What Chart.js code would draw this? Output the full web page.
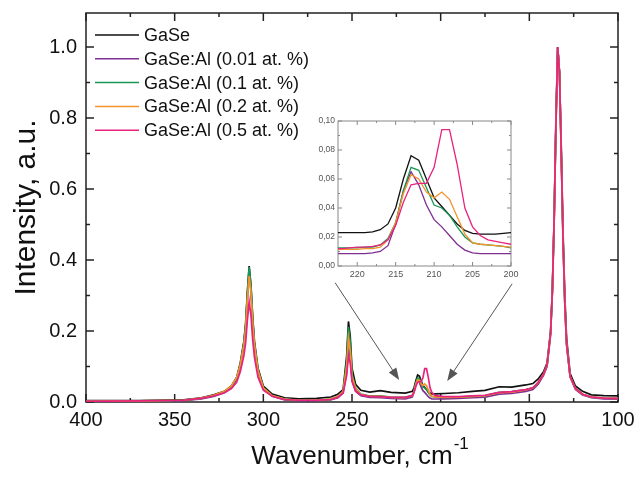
<!DOCTYPE html>
<html>
<head>
<meta charset="utf-8">
<script src="https://cdn.jsdelivr.net/npm/chart.js@4.4.1/dist/chart.umd.min.js"></script>
<style>
  html, body { margin: 0; padding: 0; background: #fff; }
  #wrap { position: relative; width: 636px; height: 477px; }
  #wrap canvas { display: block; }
  #inset { position: absolute; left: 300px; top: 110px; }
</style>
</head>
<body>
<div id="wrap">
  <canvas id="ramanChart" width="636" height="477"></canvas>
  <canvas id="inset" width="220" height="180"></canvas>
</div>
<script>
var seriesLabels = ['GaSe', 'GaSe:Al (0.01 at. %)', 'GaSe:Al (0.1 at. %)', 'GaSe:Al (0.2 at. %)', 'GaSe:Al (0.5 at. %)'];

var wavenumber = [400, 370, 345, 335, 328, 322, 318, 315, 313, 311,
	310, 309, 308, 307, 306, 305, 303, 300, 295, 288,
	280, 270, 262, 258, 255, 253, 252, 251, 250, 248,
	245, 240, 234, 228, 220, 216, 215, 214, 213, 212,
	211, 210, 209, 208, 207, 206, 205, 203, 198, 190,
	182, 175, 167, 160, 152, 148, 145, 142, 140, 138,
	137, 136, 135, 134, 133, 132, 131, 130, 129, 127,
	124, 120, 115, 108, 100];

var gase = [0.004, 0.004, 0.006, 0.012, 0.020, 0.030, 0.045, 0.070, 0.110, 0.170,
	0.220, 0.310, 0.383, 0.330, 0.240, 0.170, 0.095, 0.045, 0.022, 0.012,
	0.009, 0.010, 0.014, 0.022, 0.035, 0.130, 0.227, 0.185, 0.095, 0.050,
	0.033, 0.028, 0.032, 0.027, 0.025, 0.030, 0.040, 0.060, 0.076, 0.073,
	0.060, 0.046, 0.041, 0.035, 0.029, 0.025, 0.023, 0.023, 0.024, 0.026,
	0.030, 0.033, 0.043, 0.042, 0.048, 0.052, 0.065, 0.085, 0.110, 0.200,
	0.320, 0.520, 0.800, 1.000, 0.930, 0.720, 0.480, 0.300, 0.180, 0.080,
	0.045, 0.030, 0.020, 0.018, 0.017];

var al001 = [0.002, 0.002, 0.004, 0.009, 0.016, 0.026, 0.040, 0.065, 0.100, 0.160,
	0.210, 0.295, 0.365, 0.315, 0.225, 0.160, 0.085, 0.038, 0.016, 0.006,
	0.004, 0.004, 0.006, 0.012, 0.025, 0.085, 0.155, 0.125, 0.060, 0.030,
	0.018, 0.013, 0.012, 0.010, 0.009, 0.014, 0.029, 0.054, 0.065, 0.056,
	0.042, 0.032, 0.027, 0.021, 0.015, 0.011, 0.009, 0.0085, 0.009, 0.010,
	0.012, 0.014, 0.022, 0.024, 0.030, 0.035, 0.050, 0.075, 0.100, 0.190,
	0.310, 0.510, 0.780, 1.000, 0.930, 0.700, 0.460, 0.280, 0.160, 0.070,
	0.035, 0.020, 0.012, 0.009, 0.008];

var al01 = [0.002, 0.003, 0.005, 0.010, 0.018, 0.028, 0.043, 0.068, 0.105, 0.165,
	0.215, 0.305, 0.380, 0.330, 0.235, 0.165, 0.090, 0.040, 0.018, 0.008,
	0.005, 0.005, 0.008, 0.015, 0.030, 0.115, 0.212, 0.170, 0.080, 0.040,
	0.022, 0.017, 0.017, 0.014, 0.013, 0.019, 0.030, 0.052, 0.068, 0.066,
	0.054, 0.042, 0.040, 0.035, 0.027, 0.020, 0.016, 0.0145, 0.013, 0.014,
	0.016, 0.018, 0.027, 0.029, 0.035, 0.040, 0.055, 0.078, 0.105, 0.195,
	0.315, 0.515, 0.780, 1.000, 0.930, 0.700, 0.460, 0.280, 0.165, 0.072,
	0.038, 0.022, 0.014, 0.011, 0.010];

var al02 = [0.002, 0.003, 0.005, 0.011, 0.019, 0.030, 0.045, 0.070, 0.105, 0.160,
	0.205, 0.290, 0.355, 0.310, 0.225, 0.160, 0.088, 0.040, 0.018, 0.008,
	0.005, 0.005, 0.008, 0.015, 0.030, 0.100, 0.180, 0.145, 0.072, 0.038,
	0.021, 0.016, 0.016, 0.013, 0.012, 0.018, 0.030, 0.050, 0.063, 0.060,
	0.051, 0.047, 0.051, 0.046, 0.034, 0.022, 0.016, 0.0145, 0.013, 0.014,
	0.016, 0.018, 0.026, 0.028, 0.034, 0.040, 0.055, 0.078, 0.105, 0.195,
	0.315, 0.515, 0.780, 1.000, 0.930, 0.700, 0.460, 0.280, 0.165, 0.072,
	0.038, 0.022, 0.014, 0.011, 0.010];

var al05 = [0.002, 0.003, 0.005, 0.010, 0.017, 0.026, 0.038, 0.056, 0.085, 0.130,
	0.165, 0.230, 0.283, 0.245, 0.175, 0.125, 0.070, 0.033, 0.016, 0.007,
	0.005, 0.005, 0.007, 0.013, 0.026, 0.075, 0.130, 0.110, 0.058, 0.032,
	0.020, 0.016, 0.015, 0.013, 0.013, 0.018, 0.028, 0.044, 0.056, 0.057,
	0.057, 0.068, 0.094, 0.094, 0.070, 0.040, 0.027, 0.018, 0.015, 0.015,
	0.017, 0.019, 0.027, 0.029, 0.035, 0.040, 0.055, 0.078, 0.105, 0.195,
	0.315, 0.515, 0.780, 1.000, 0.930, 0.700, 0.460, 0.280, 0.165, 0.072,
	0.038, 0.022, 0.014, 0.011, 0.010];

// zoomed region 223..200 cm-1 for the inset
var insetWn = [223, 222, 221, 220, 219, 218, 217, 216, 215, 214, 213, 212,
	211, 210, 209, 208, 207, 206, 205, 204, 203, 202, 201, 200];
var insetGase = [0.023, 0.023, 0.023, 0.023, 0.023, 0.0235, 0.025, 0.029, 0.040, 0.060, 0.076, 0.073,
	0.060, 0.047, 0.041, 0.035, 0.029, 0.0245, 0.0225, 0.022, 0.022, 0.022, 0.0225, 0.023];
var insetAl001 = [0.0085, 0.0085, 0.0085, 0.0085, 0.0085, 0.009, 0.010, 0.014, 0.029, 0.052, 0.065, 0.056,
	0.042, 0.032, 0.027, 0.021, 0.015, 0.011, 0.009, 0.0085, 0.0085, 0.0085, 0.0085, 0.0085];
var insetAl01 = [0.0125, 0.0125, 0.0125, 0.0125, 0.013, 0.013, 0.0145, 0.019, 0.030, 0.052, 0.068, 0.066,
	0.054, 0.042, 0.040, 0.035, 0.027, 0.020, 0.016, 0.015, 0.0145, 0.014, 0.0135, 0.0125];
var insetAl02 = [0.0115, 0.0115, 0.0115, 0.0115, 0.012, 0.012, 0.013, 0.018, 0.030, 0.050, 0.063, 0.060,
	0.051, 0.047, 0.051, 0.046, 0.034, 0.022, 0.016, 0.015, 0.0145, 0.014, 0.0135, 0.013];
var insetAl05 = [0.012, 0.012, 0.0125, 0.013, 0.013, 0.0135, 0.0145, 0.018, 0.028, 0.044, 0.056, 0.057,
	0.057, 0.068, 0.094, 0.094, 0.070, 0.040, 0.027, 0.021, 0.018, 0.017, 0.016, 0.015];

var lineColors = ['#111111', '#7f2f8f', '#1b9653', '#f4922c', '#e8237f'];
var FONT = '"Liberation Sans", Arial, sans-serif';
Chart.defaults.font.family = FONT;
Chart.defaults.color = '#111';

function toPoints(xs, ys) {
	return xs.map(function (x, i) { return { x: x, y: ys[i] }; });
}

function buildSets(xs, list, width) {
	return list.map(function (ys, i) {
		return {
			label: seriesLabels[i],
			data: toPoints(xs, ys),
			borderColor: lineColors[i],
			borderWidth: width,
			pointRadius: 0,
			tension: 0,
			order: list.length - 1 - i
		};
	});
}

// box round the plot with inward major/minor ticks on all four sides
var frameTicks = {
	id: 'frameTicks',
	beforeDatasetsDraw: function (chart, args, o) {
		var ctx = chart.ctx, a = chart.chartArea, sx = chart.scales.x, sy = chart.scales.y;
		ctx.save();
		ctx.strokeStyle = o.color;
		ctx.lineWidth = o.width;
		ctx.strokeRect(a.left, a.top, a.right - a.left, a.bottom - a.top);
		ctx.beginPath();
		sx.ticks.forEach(function (t) {
			var p = sx.getPixelForValue(t.value);
			ctx.moveTo(p, a.bottom); ctx.lineTo(p, a.bottom - o.major);
			ctx.moveTo(p, a.top); ctx.lineTo(p, a.top + o.major);
			var m = t.value + o.xMinor;
			if (m < sx.max) {
				p = sx.getPixelForValue(m);
				ctx.moveTo(p, a.bottom); ctx.lineTo(p, a.bottom - o.minor);
				ctx.moveTo(p, a.top); ctx.lineTo(p, a.top + o.minor);
			}
		});
		sy.ticks.forEach(function (t) {
			var p = sy.getPixelForValue(t.value);
			ctx.moveTo(a.left, p); ctx.lineTo(a.left + o.major, p);
			ctx.moveTo(a.right, p); ctx.lineTo(a.right - o.major, p);
			var m = t.value + o.yMinor;
			if (m < sy.max) {
				p = sy.getPixelForValue(m);
				ctx.moveTo(a.left, p); ctx.lineTo(a.left + o.minor, p);
				ctx.moveTo(a.right, p); ctx.lineTo(a.right - o.minor, p);
			}
		});
		ctx.stroke();
		ctx.restore();
	}
};

var legendBox = {
	id: 'legendBox',
	afterDatasetsDraw: function (chart, args, o) {
		var ctx = chart.ctx, a = chart.chartArea;
		ctx.save();
		ctx.font = o.size + 'px ' + FONT;
		ctx.textBaseline = 'middle';
		ctx.textAlign = 'left';
		chart.data.datasets.forEach(function (ds, i) {
			var y = a.top + o.top + i * o.rowHeight;
			var x = a.left + o.left;
			ctx.strokeStyle = ds.borderColor;
			ctx.lineWidth = 1.5;
			ctx.beginPath();
			ctx.moveTo(x, y);
			ctx.lineTo(x + o.lineLength, y);
			ctx.stroke();
			ctx.fillStyle = '#111';
			ctx.fillText(ds.label, x + o.lineLength + o.gap, y + 1);
		});
		ctx.restore();
	}
};

var pointerArrows = {
	id: 'pointerArrows',
	afterDatasetsDraw: function (chart, args, o) {
		var ctx = chart.ctx, sx = chart.scales.x, sy = chart.scales.y;
		ctx.save();
		ctx.strokeStyle = o.color;
		ctx.fillStyle = o.color;
		ctx.lineWidth = 1;
		o.arrows.forEach(function (ar) {
			var x1 = sx.getPixelForValue(ar[0]), y1 = sy.getPixelForValue(ar[1]);
			var x2 = sx.getPixelForValue(ar[2]), y2 = sy.getPixelForValue(ar[3]);
			var ang = Math.atan2(y2 - y1, x2 - x1);
			ctx.beginPath();
			ctx.moveTo(x1, y1);
			ctx.lineTo(x2 - Math.cos(ang) * 6, y2 - Math.sin(ang) * 6);
			ctx.stroke();
			ctx.beginPath();
			ctx.moveTo(x2, y2);
			ctx.lineTo(x2 - Math.cos(ang) * 12 + Math.sin(ang) * 4.5, y2 - Math.sin(ang) * 12 - Math.cos(ang) * 4.5);
			ctx.lineTo(x2 - Math.cos(ang) * 12 - Math.sin(ang) * 4.5, y2 - Math.sin(ang) * 12 + Math.cos(ang) * 4.5);
			ctx.closePath();
			ctx.fill();
		});
		ctx.restore();
	}
};

// "-1" superscript after the x axis title
var superscript = {
	id: 'superscript',
	afterDraw: function (chart) {
		var ctx = chart.ctx, sx = chart.scales.x, t = sx.options.title;
		ctx.save();
		ctx.font = t.font.size + 'px ' + FONT;
		var w = ctx.measureText(t.text).width;
		var cx = (sx.left + sx.right) / 2;
		var cy = sx.bottom - t.padding.bottom - t.font.size * 1.2 / 2;
		ctx.font = '17px ' + FONT;
		ctx.fillStyle = '#111';
		ctx.textAlign = 'left';
		ctx.textBaseline = 'middle';
		ctx.fillText('-1', cx + w / 2 + 1, cy - 12);
		ctx.restore();
	}
};

function fixWidth(w) {
	return function (scale) {
		scale.width = w;
		scale.paddingTop = 0; scale.paddingBottom = 0;
	};
}
function fixHeight(h) {
	return function (scale) {
		scale.height = h;
		scale.paddingLeft = 0; scale.paddingRight = 0;
	};
}

var ctx = document.getElementById('ramanChart').getContext('2d');
var ramanChart = new Chart(ctx, {
	type: 'line',
	data: { datasets: buildSets(wavenumber, [gase, al001, al01, al02, al05], 1.7) },
	options: {
		responsive: false,
		animation: false,
		devicePixelRatio: 1,
		layout: { padding: { top: 13, right: 18, left: 0, bottom: 0 } },
		scales: {
			x: {
				type: 'linear', min: 100, max: 400, reverse: true,
				grid: { display: false, drawTicks: false },
				border: { display: false },
				ticks: { stepSize: 50, includeBounds: false, autoSkip: false, maxRotation: 0, padding: 6, font: { size: 20 }, color: '#111' },
				title: { display: true, text: 'Wavenumber, cm', font: { size: 26 }, padding: { top: 0, bottom: 5 }, color: '#111' },
				afterFit: fixHeight(75)
			},
			y: {
				type: 'linear', min: 0, max: 1.096,
				grid: { display: false, drawTicks: false },
				border: { display: false },
				ticks: { stepSize: 0.2, includeBounds: false, padding: 9, font: { size: 20 }, color: '#111',
					callback: function (v) { return v.toFixed(1); } },
				title: { display: true, text: 'Intensity, a.u.', font: { size: 30 }, padding: { top: 9, bottom: 0 }, color: '#111' },
				afterFit: fixWidth(86)
			}
		},
		plugins: {
			legend: { display: false },
			tooltip: { enabled: false },
			frameTicks: { color: '#222', width: 1.5, major: 8, minor: 4, xMinor: 25, yMinor: 0.1 },
			legendBox: { size: 18, left: 9, top: 22, rowHeight: 23.8, lineLength: 44, gap: 5 },
			pointerArrows: { color: '#555', arrows: [[259.5, 0.336, 223.4, 0.062], [159.7, 0.333, 196.3, 0.059]] }
		}
	},
	plugins: [frameTicks, legendBox, pointerArrows, superscript]
});

var ictx = document.getElementById('inset').getContext('2d');
var insetChart = new Chart(ictx, {
	type: 'line',
	data: { datasets: buildSets(insetWn, [insetGase, insetAl001, insetAl01, insetAl02, insetAl05], 1.3) },
	options: {
		responsive: false,
		animation: false,
		devicePixelRatio: 1,
		layout: { padding: { top: 11, right: 9, left: 0, bottom: 0 } },
		scales: {
			x: {
				type: 'linear', min: 200, max: 222.5, reverse: true,
				grid: { display: false, drawTicks: false },
				border: { display: false },
				ticks: { stepSize: 5, includeBounds: false, autoSkip: false, maxRotation: 0, padding: 3, font: { size: 9 }, color: '#555' },
				afterFit: fixHeight(24)
			},
			y: {
				type: 'linear', min: 0, max: 0.1,
				grid: { display: false, drawTicks: false },
				border: { display: false },
				ticks: { stepSize: 0.02, includeBounds: false, padding: 3, font: { size: 8.5 }, color: '#555',
					callback: function (v) { return v.toFixed(2).replace('.', ','); } },
				afterFit: fixWidth(38)
			}
		},
		plugins: {
			legend: { display: false },
			tooltip: { enabled: false },
			frameTicks: { color: '#888', width: 1, major: 4, minor: 2, xMinor: 2.5, yMinor: 0.01 }
		}
	},
	plugins: [frameTicks]
});
</script>
</body>
</html>
